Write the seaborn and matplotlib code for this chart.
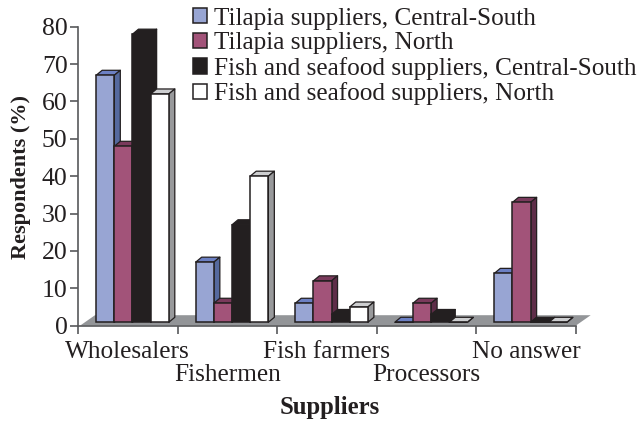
import matplotlib
matplotlib.use("Agg")
import matplotlib.pyplot as plt
from matplotlib.patches import Polygon
import pandas as pd
import seaborn as sns

categories = ["Wholesalers", "Fishermen", "Fish farmers", "Processors", "No answer"]
series_names = ["Tilapia suppliers, Central-South", "Tilapia suppliers, North",
                "Fish and seafood suppliers, Central-South", "Fish and seafood suppliers, North"]
tilapia_cs = [67, 17, 6, 0, 14]
tilapia_n = [48, 6, 12, 6, 33]
fish_cs = [78, 27, 3, 3, 0]
fish_n = [62, 40, 5, 0, 0]
front_colors = ["#98A5D3", "#A25379", "#231F20", "#FFFFFF"]
side_colors = ["#55699E", "#5E2D48", "#231F20", "#98999B"]
top_colors = ["#6C80C4", "#7A3A5C", "#231F20", "#CDCED0"]
INK = "#231F20"

sns.set_style("ticks")
plt.rcParams["font.family"] = ["Liberation Serif", "DejaVu Serif"]
plt.rcParams["text.color"] = INK

df = pd.DataFrame({
    "Supplier": categories * 4,
    "Series": [s for s in series_names for _ in categories],
    "Percent": tilapia_cs + tilapia_n + fish_cs + fish_n,
})

W, H = 640, 423
fig = plt.figure(figsize=(W / 100, H / 100), dpi=100)
left, right, y0, y80 = 78, 575.7, 325.7, 26.7
ax = fig.add_axes([left / W, (H - y0) / H, (right - left) / W, (y0 - y80) / H])

sns.barplot(data=df, x="Supplier", y="Percent", hue="Series", order=categories,
            hue_order=series_names, palette=front_colors, width=0.73, gap=0,
            edgecolor=INK, linewidth=1.1, saturation=1, errorbar=None, ax=ax)
ax.set_xlim(-0.5, 4.5)
ax.set_ylim(0, 80)

# pseudo-3D geometry, in data units
px_x = (right - left) / 5
px_y = (y0 - y80) / 80
dx, dy = 6 / px_x, 5 / px_y
shift, base = 4.7 / px_x, 3.4 / px_y

floor = Polygon([(-0.48, 0), (4.5, 0), (4.5 + 15 / px_x, 10.5 / px_y), (-0.48 + 15 / px_x, 10.5 / px_y)],
                closed=True, facecolor="#939598", edgecolor="none", zorder=1, clip_on=False)
ax.add_patch(floor)

bars = []
for k, container in enumerate(ax.containers):
    for patch in container:
        bars.append((patch.get_x(), k, patch))
bars.sort(key=lambda t: t[0])
for i, (_, k, patch) in enumerate(bars):
    top_val = max(patch.get_height(), base)
    x0 = patch.get_x() + shift
    w = patch.get_width()
    patch.set_x(x0)
    patch.set_y(base)
    patch.set_height(top_val - base)
    z = 3 + i
    patch.set_zorder(z + 0.5)
    patch.set_clip_on(False)
    top = Polygon([(x0, top_val), (x0 + w, top_val), (x0 + w + dx, top_val + dy), (x0 + dx, top_val + dy)],
                  closed=True, facecolor=top_colors[k], edgecolor=INK, linewidth=0.9,
                  joinstyle="round", zorder=z, clip_on=False)
    side = Polygon([(x0 + w, base), (x0 + w + dx, base + dy), (x0 + w + dx, top_val + dy), (x0 + w, top_val)],
                   closed=True, facecolor=side_colors[k], edgecolor=INK, linewidth=0.9,
                   joinstyle="round", zorder=z, clip_on=False)
    ax.add_patch(top)
    ax.add_patch(side)

sns.despine(ax=ax)
for s in ("left", "bottom"):
    ax.spines[s].set_color("#58595B")
    ax.spines[s].set_linewidth(1.2)
ax.set_yticks(range(0, 81, 10))
ax.tick_params(axis="y", labelsize=18.5, length=6, width=1.2, color="#58595B", labelcolor=INK, pad=1.5)
ax.set_xticks(range(5))
ax.set_xticklabels(categories)
ax.set_xticks([i - 0.5 for i in range(6)], minor=True)
ax.tick_params(axis="x", which="major", length=0, labelsize=18.2, labelcolor=INK)
ax.tick_params(axis="x", which="minor", length=6, width=1.2, color="#58595B")
for i, tick in enumerate(ax.xaxis.get_major_ticks()):
    tick.set_pad(27.5 if i % 2 else 11)

ax.set_xlabel("Suppliers", fontsize=17.8, fontweight="bold", color=INK)
ax.xaxis.set_label_coords((329.5 - left) / (right - left), (y0 - 407) / (y0 - y80), transform=ax.transAxes)
ax.xaxis.label.set_verticalalignment("center")
ax.set_ylabel("Respondents (%)", fontsize=16, fontweight="bold", color=INK)
ax.yaxis.set_label_coords((21 - left) / (right - left), (y0 - 177) / (y0 - y80), transform=ax.transAxes)
ax.yaxis.label.set_verticalalignment("center")

sns.move_legend(ax, "upper left", bbox_to_anchor=(189 / W, (H - 4) / H),
                bbox_transform=fig.transFigure, title=None, frameon=False, fontsize=18.2,
                handlelength=0.55, handleheight=0.55, handletextpad=0.30,
                labelspacing=0.10, borderpad=0.15, borderaxespad=0)
ax.get_legend().set_zorder(100)

fig.savefig("out.png", dpi=100)
